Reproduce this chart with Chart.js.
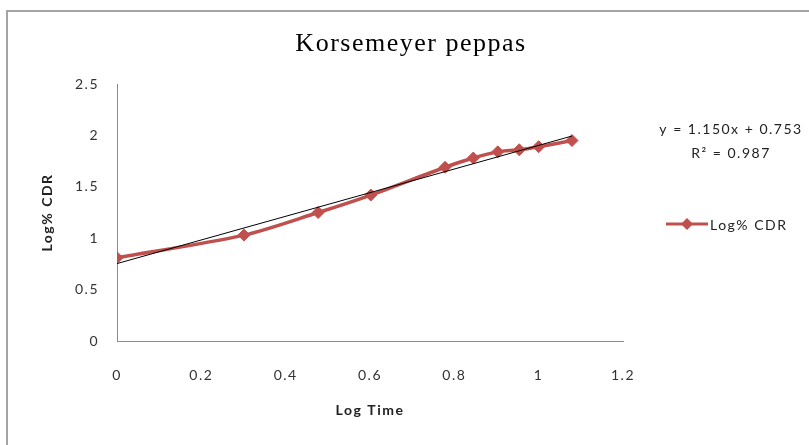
<!DOCTYPE html>
<html>
<head>
<meta charset="utf-8">
<title>Korsemeyer peppas</title>
<script src="https://cdn.jsdelivr.net/npm/chart.js@4.4.1/dist/chart.umd.min.js"></script>
<style>
  html, body { margin: 0; padding: 0; background: #fff; overflow: hidden; }
  #frame {
    position: absolute; left: 6px; top: 10px; width: 830px; height: 460px;
    border-left: 2px solid #a4a4a4; border-top: 2px solid #a4a4a4;
  }
  #wrap { position: absolute; left: 0; top: 0; width: 809px; height: 445px; }
</style>
</head>
<body>
<div id="frame"></div>
<div id="wrap"><canvas id="chart" width="809" height="445"></canvas></div>
<script>
// log of sampling time (h) against log % cumulative drug released
const logTime = [0, 0.301, 0.477, 0.602, 0.778, 0.845, 0.903, 0.954, 1.0, 1.079];
const logCdr = [0.81, 1.03, 1.25, 1.42, 1.69, 1.78, 1.84, 1.86, 1.89, 1.95];

// linear fit reported on the chart
const slope = 1.150;
const intercept = 0.753;
const rSquared = 0.987;

const xTicks = [0, 0.2, 0.4, 0.6, 0.8, 1, 1.2];
const yTicks = [0, 0.5, 1, 1.5, 2, 2.5];

const seriesName = 'Log% CDR';
const titleText = 'Korsemeyer peppas';
const red = '#c0504d';

const fitLine = [logTime[0], logTime[logTime.length - 1]].map(x => ({ x: x, y: slope * x + intercept }));
const points = logTime.map((x, i) => ({ x: x, y: logCdr[i] }));

const sans = 'Lato, "Open Sans", sans-serif';
const labelFont = { family: sans, size: 14 };

// widen glyph spacing for everything the chart draws
const spacing = {
    id: 'spacing',
    beforeInit: (chart) => { chart.ctx.letterSpacing = '1.5px'; },
    beforeDraw: (chart) => { chart.ctx.letterSpacing = '1.5px'; }
};

// title, equation box and legend drawn straight onto the canvas
const extras = {
    id: 'extras',
    afterDraw: (chart) => {
        const ctx = chart.ctx;
        ctx.save();
        ctx.textAlign = 'center';
        ctx.textBaseline = 'middle';
        ctx.fillStyle = '#000';
        ctx.letterSpacing = '1.5px';
        ctx.font = '26px "Liberation Serif", serif';
        ctx.fillText(titleText, 411, 44);

        ctx.fillStyle = '#222';
        ctx.font = `14px ${sans}`;
        ctx.fillText(`y = ${slope.toFixed(3)}x + ${intercept.toFixed(3)}`, 731, 129);
        ctx.fillText(`R\u00b2 = ${rSquared.toFixed(3)}`, 731, 153);

        // legend entry: line with diamond marker
        ctx.strokeStyle = red;
        ctx.lineWidth = 3;
        ctx.beginPath();
        ctx.moveTo(666, 224);
        ctx.lineTo(708, 224);
        ctx.stroke();
        ctx.fillStyle = red;
        ctx.beginPath();
        ctx.moveTo(687, 218);
        ctx.lineTo(693, 224);
        ctx.lineTo(687, 230);
        ctx.lineTo(681, 224);
        ctx.closePath();
        ctx.fill();
        ctx.textAlign = 'left';
        ctx.fillStyle = '#222';
        ctx.fillText(seriesName, 710, 225);
        ctx.restore();
    }
};

new Chart(document.getElementById('chart').getContext('2d'), {
    type: 'line',
    data: {
        datasets: [
            {
                label: 'Linear fit',
                data: fitLine,
                borderColor: '#000',
                borderWidth: 1,
                pointRadius: 0,
                tension: 0
            },
            {
                label: seriesName,
                data: points,
                borderColor: red,
                backgroundColor: red,
                borderWidth: 3.5,
                pointStyle: 'rectRot',
                pointRadius: 6,
                pointBorderWidth: 1,
                tension: 0.3
            }
        ]
    },
    options: {
        responsive: false,
        animation: false,
        devicePixelRatio: 1,
        layout: { padding: { left: 30, right: 186, top: 84, bottom: 0 } },
        plugins: {
            legend: { display: false },
            tooltip: { enabled: false }
        },
        scales: {
            x: {
                type: 'linear',
                min: 0,
                max: 1.2,
                afterFit: (scale) => { scale.height = 104; },
                afterBuildTicks: (scale) => { scale.ticks = xTicks.map(v => ({ value: v })); },
                grid: { display: false, drawTicks: false },
                border: { display: true, color: '#8c8c8c', width: 1 },
                ticks: {
                    padding: 26,
                    color: '#333',
                    font: labelFont,
                    callback: (v) => String(Number(v.toFixed(1)))
                },
                title: {
                    display: true,
                    text: 'Log Time',
                    color: '#222',
                    font: { family: sans, size: 14, weight: 'bold' },
                    padding: { top: 0, bottom: 26 }
                }
            },
            y: {
                min: 0,
                max: 2.5,
                afterFit: (scale) => { scale.width = 87; },
                afterBuildTicks: (scale) => { scale.ticks = yTicks.map(v => ({ value: v })); },
                grid: { display: false, drawTicks: false },
                border: { display: true, color: '#8c8c8c', width: 1 },
                ticks: {
                    padding: 18,
                    color: '#333',
                    font: labelFont,
                    callback: (v) => String(Number(v.toFixed(1)))
                },
                title: {
                    display: true,
                    text: 'Log% CDR',
                    color: '#222',
                    font: { family: sans, size: 14, weight: 'bold' },
                    padding: { top: 9, bottom: 0 }
                }
            }
        }
    },
    plugins: [spacing, extras]
});
</script>
</body>
</html>
